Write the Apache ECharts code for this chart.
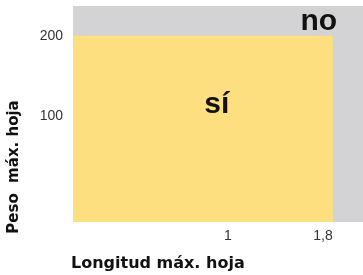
<!DOCTYPE html>
<html>
<head>
<meta charset="utf-8">
<script src="https://cdn.jsdelivr.net/npm/echarts@6/dist/echarts.min.js"></script>
<style>html,body{margin:0;padding:0;background:#fff}</style>
</head>
<body>
<div id="chart" style="width:363px;height:275px"></div>
<script>
// zona admitida: longitud <= 1,8 y peso <= 200
var xTicks = [1, 1.8];
var yTicks = [100, 200];
var siRegion = [[-0.26, -31, 1.8, 200]];
var textMarks = [
  { name: 'sí', value: [0.88, 115] },
  { name: 'no', value: [1.69, 218] }
];

var myChart = echarts.init(document.getElementById('chart'));
var font = '"Liberation Sans", Arial, sans-serif';
var titleFont = '"DejaVu Sans", sans-serif';

var option = {
  animation: false,
  grid: {
    left: 73, right: 0, top: 6, bottom: 53,
    show: true, backgroundColor: '#d3d3d5', borderWidth: 0
  },
  xAxis: {
    type: 'value', min: -0.26, max: 2.04,
    axisLine: { show: false }, axisTick: { show: false }, splitLine: { show: false },
    axisLabel: {
      customValues: xTicks, align: 'right', margin: 7,
      fontFamily: font, fontSize: 14, color: '#333',
      formatter: function (v) { return String(v).replace('.', ','); }
    }
  },
  yAxis: {
    type: 'value', min: -31, max: 237,
    axisLine: { show: false }, axisTick: { show: false }, splitLine: { show: false },
    axisLabel: {
      customValues: yTicks, margin: 10,
      fontFamily: font, fontSize: 14, color: '#333'
    }
  },
  series: [
    {
      type: 'custom',
      renderItem: function (params, api) {
        var p1 = api.coord([api.value(0), api.value(1)]);
        var p2 = api.coord([api.value(2), api.value(3)]);
        return {
          type: 'rect',
          shape: { x: p1[0], y: p2[1], width: p2[0] - p1[0], height: p1[1] - p2[1] },
          style: { fill: '#fedf80' }
        };
      },
      data: siRegion
    },
    {
      type: 'scatter',
      symbolSize: 0,
      itemStyle: { opacity: 1 },
      label: {
        show: true, position: 'inside',
        formatter: '{b}',
        fontFamily: font, fontWeight: 'bold', fontSize: 30, color: '#111'
      },
      data: textMarks
    }
  ],
  graphic: [
    {
      type: 'text', x: 14, y: 167, rotation: Math.PI / 2,
      style: {
        text: 'Peso  máx. hoja', fontFamily: titleFont, fontWeight: 'bold', fontSize: 15,
        fill: '#111', align: 'center', verticalAlign: 'middle'
      }
    },
    {
      type: 'text', x: 71, y: 264,
      style: {
        text: 'Longitud máx. hoja', fontFamily: titleFont, fontWeight: 'bold', fontSize: 16,
        fill: '#111', align: 'left', verticalAlign: 'middle'
      }
    }
  ]
};
myChart.setOption(option);
</script>
</body>
</html>
